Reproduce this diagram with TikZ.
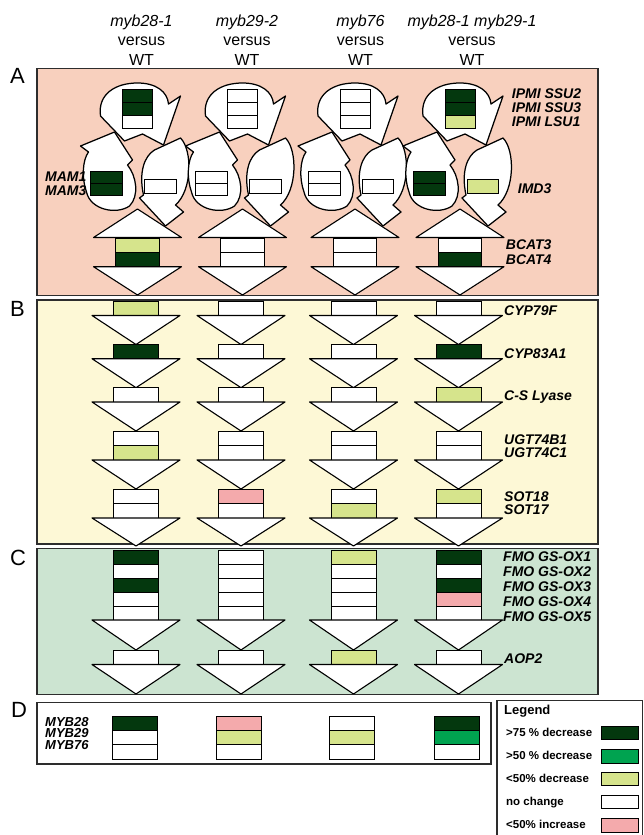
\documentclass[tikz,border=0pt]{standalone}
\usepackage{fontspec}
\setmainfont{Liberation Sans}
\definecolor{panelA}{RGB}{248,208,190}
\definecolor{panelB}{RGB}{253,248,214}
\definecolor{panelC}{RGB}{204,228,209}
\definecolor{dk}{RGB}{4,56,14}
\definecolor{md}{RGB}{0,163,80}
\definecolor{lt}{RGB}{214,228,140}
\definecolor{pk}{RGB}{244,170,172}
\definecolor{wh}{RGB}{255,255,255}
\definecolor{frame}{RGB}{45,45,45}
\tikzset{
  panel/.style={draw=frame, line width=1.3pt},
  cell/.style={draw=black, line width=1pt, inner sep=0pt, outer sep=0pt, rectangle},
  tri/.style={draw=black, fill=white, line width=1.1pt, line join=round},
  blob/.style={draw=black, fill=white, line width=1.25pt, line join=round},
  gene/.style={font=\fontsize{14}{14}\selectfont\bfseries\itshape, anchor=west,
    inner sep=0pt, text height=10pt, text depth=0pt},
  myb/.style={font=\fontsize{13}{13}\selectfont\bfseries\itshape, anchor=west,
    inner sep=0pt, text height=9.3pt, text depth=0pt},
  head/.style={font=\fontsize{16}{19}\selectfont, anchor=base, inner sep=0pt},
  letter/.style={font=\fontsize{22}{22}\selectfont, anchor=base west, inner sep=0pt},
  legtext/.style={font=\fontsize{11.5}{12}\selectfont\bfseries, anchor=west,
    inner sep=0pt, text height=8.5pt, text depth=0pt},
}
% three curved arrows of the side-chain elongation cycle, around x = 0
\newcommand\cycleshapes{%
  \draw[blob] (-37,-116) .. controls (-40,-94) and (-22,-83) .. (0,-83)
    .. controls (19,-83) and (30,-92) .. (31,-104) -- (43,-96) -- (26,-145)
    -- (5,-134) -- (-13,-141) -- cycle;
  \draw[blob] (-57,-146) -- (-23,-132) -- (-5,-160) -- (-10,-165)
    .. controls (-1,-176) and (2,-196) .. (-8,-206)
    .. controls (-21,-215) and (-47,-210) .. (-51,-192)
    .. controls (-56,-178) and (-55,-160) .. (-49,-152) -- cycle;
  \draw[blob] (17,-150) -- (43,-138)
    .. controls (55,-150) and (55,-190) .. (38,-205) -- (46,-212) -- (28,-226)
    -- (2,-198) -- (6,-195)
    .. controls (1,-172) and (7,-156) .. (17,-150) -- cycle;
}
% downward pathway arrow: top edge at #1, tip at #2
\newcommand\downtri[2]{\draw[tri] (-44,#1) -- (44,#1) -- (0,#2) -- cycle;}
\begin{document}
\begin{tikzpicture}[x=1pt,y=1pt]
\useasboundingbox (0,0) rectangle (644,-835);
\fill[white] (0,0) rectangle (644,-835);

% column headings
\foreach \x/\g [count=\i] in {141.5/myb28-1, 247/myb29-2, 360.5/myb76, 472/{myb28-1 myb29-1}} {
  \node[head, font=\fontsize{16}{19}\selectfont\itshape] (hd\i-1) at (\x,-26) {\g};
  \node[head] (hd\i-2) at (\x,-45.8) {versus};
  \node[head] (hd\i-3) at (\x,-65.7) {WT};
}

% panel frames
\draw[panel, fill=panelA] (37,-68.5) rectangle (598,-295.5);
\draw[panel, fill=panelB] (37,-300) rectangle (598,-544);
\draw[panel, fill=panelC] (37,-548.5) rectangle (598,-694.5);
\draw[panel, fill=white] (37,-702.5) rectangle (491,-764);
\draw[panel, fill=white] (497,-700.5) rectangle (642.5,-850);

\node[letter] (lA) at (10,-83) {A};
\node[letter] (lB) at (10,-316) {B};
\node[letter] (lC) at (10,-565) {C};
\node[letter] (lD) at (11,-717) {D};

% panel A: chain elongation
\foreach \cx/\ta/\tb/\tc/\la/\lb/\ra/\ba/\bb [count=\i] in
  {137.5/dk/dk/wh/dk/dk/wh/lt/dk, 242.5/wh/wh/wh/wh/wh/wh/wh/wh,
   355/wh/wh/wh/wh/wh/wh/wh/wh, 460/dk/dk/lt/dk/dk/lt/wh/dk} {
  \begin{scope}[shift={(\cx,0)}]
    \cycleshapes
    \node[cell, fill=\ta, minimum width=30pt, minimum height=13pt] (ip\i-1) at (0,-95.8) {};
    \node[cell, fill=\tb, minimum width=30pt, minimum height=13pt] (ip\i-2) at (0,-108.8) {};
    \node[cell, fill=\tc, minimum width=30pt, minimum height=13pt] (ip\i-3) at (0,-121.8) {};
    \node[cell, fill=\la, minimum width=32pt, minimum height=12pt] (mam\i-1) at (-30.8,-177) {};
    \node[cell, fill=\lb, minimum width=32pt, minimum height=12pt] (mam\i-2) at (-30.8,-189) {};
    \node[cell, fill=\ra, minimum width=31.4pt, minimum height=14pt] (imd\i) at (23,-186.3) {};
    \draw[tri] (0,-209) -- (-44,-237.5) -- (44,-237.5) -- cycle;
    \node[cell, fill=\ba, minimum width=43.5pt, minimum height=14.3pt] (bcat\i-1) at (0,-245.2) {};
    \node[cell, fill=\bb, minimum width=43.5pt, minimum height=14.3pt] (bcat\i-2) at (0,-259.6) {};
    \downtri{-266.7}{-295}
  \end{scope}
}

% panel B: core structure
\foreach \cx/\a/\b/\c/\d/\e/\f/\g [count=\i] in
  {136/lt/dk/wh/wh/lt/wh/wh, 241/wh/wh/wh/wh/wh/pk/wh,
   353.5/wh/wh/wh/wh/wh/wh/lt, 458.5/wh/dk/lt/wh/wh/lt/wh} {
  \begin{scope}[shift={(\cx,0)}, every node/.style={cell, minimum width=45pt}]
    \node[fill=\a, minimum height=14pt] (cyp\i) at (0,-308.5) {};
    \downtri{-315.5}{-344.5}
    \node[fill=\b, minimum height=14.2pt] (cypb\i) at (0,-351.6) {};
    \downtri{-358.7}{-387.7}
    \node[fill=\c, minimum height=14.3pt] (csl\i) at (0,-394.85) {};
    \downtri{-402}{-431}
    \node[fill=\d, minimum height=14.5pt] (ugt\i-1) at (0,-438.25) {};
    \node[fill=\e, minimum height=14.5pt] (ugt\i-2) at (0,-452.75) {};
    \downtri{-460}{-489}
    \node[fill=\f, minimum height=14.5pt] (sot\i-1) at (0,-496.25) {};
    \node[fill=\g, minimum height=14.5pt] (sot\i-2) at (0,-510.75) {};
    \downtri{-518}{-546}
  \end{scope}
}

% panel C: side-chain modification
\foreach \cx/\a/\b/\c/\d/\e/\f [count=\i] in
  {136/dk/wh/dk/wh/wh/wh, 241/wh/wh/wh/wh/wh/wh,
   353.5/lt/wh/wh/wh/wh/lt, 458.5/dk/wh/dk/pk/wh/wh} {
  \begin{scope}[shift={(\cx,0)}, every node/.style={cell, minimum width=45pt, minimum height=14pt}]
    \node[fill=\a] (fmo\i-1) at (0,-557) {};
    \node[fill=\b] (fmo\i-2) at (0,-571) {};
    \node[fill=\c] (fmo\i-3) at (0,-585) {};
    \node[fill=\d] (fmo\i-4) at (0,-599) {};
    \node[fill=\e] (fmo\i-5) at (0,-613) {};
    \downtri{-620}{-650}
    \node[fill=\f, minimum height=14.5pt] (aop\i) at (0,-657.25) {};
    \downtri{-664.5}{-694}
  \end{scope}
}

% panel D: transcription factors
\foreach \cx/\a/\b/\c [count=\i] in
  {134.5/dk/wh/wh, 239/pk/lt/wh, 352/wh/lt/wh, 457/dk/md/wh} {
  \begin{scope}[shift={(\cx,0)}, every node/.style={cell, minimum width=45pt, minimum height=14.1pt}]
    \node[fill=\a] (tf\i-1) at (0,-723.75) {};
    \node[fill=\b] (tf\i-2) at (0,-737.85) {};
    \node[fill=\c] (tf\i-3) at (0,-751.95) {};
  \end{scope}
}

% gene names
\node[gene] (n-ssu2) at (511.7,-93.3) {IPMI SSU2};
\node[gene] (n-ssu3) at (511.7,-107.5) {IPMI SSU3};
\node[gene] (n-lsu1) at (511.7,-121.7) {IPMI LSU1};
\node[gene] (n-imd3) at (517.7,-188.3) {IMD3};
\node[gene] (n-bcat3) at (505.7,-244.3) {BCAT3};
\node[gene] (n-bcat4) at (505.7,-259.3) {BCAT4};
\node[gene] (n-mam1) at (45,-176.7) {MAM1};
\node[gene] (n-mam3) at (45,-190.7) {MAM3};
\node[gene] (n-cyp79) at (504,-310) {CYP79F};
\node[gene] (n-cyp83) at (504,-353.3) {CYP83A1};
\node[gene] (n-csl) at (504,-395.3) {C-S Lyase};
\node[gene] (n-ugtb) at (504,-439.3) {UGT74B1};
\node[gene] (n-ugtc) at (504,-452.7) {UGT74C1};
\node[gene] (n-sot18) at (504,-496) {SOT18};
\node[gene] (n-sot17) at (504,-509.3) {SOT17};
\foreach \k/\y in {1/556.7, 2/571.7, 3/586.7, 4/601.7, 5/616.7}
  \node[gene] (n-fmo\k) at (503,-\y) {FMO GS-OX\k};
\node[gene] (n-aop2) at (504,-658.3) {AOP2};
\node[myb] (n-myb28) at (45,-721.7) {MYB28};
\node[myb] (n-myb29) at (45,-733.3) {MYB29};
\node[myb] (n-myb76) at (45,-745) {MYB76};

% legend
\node[legtext, font=\fontsize{13}{13}\selectfont\bfseries] (lg) at (504,-710) {Legend};
\foreach \t/\c/\y [count=\k] in {>75 \% decrease/dk/732, >50 \% decrease/md/755.5,
    <50\% decrease/lt/778, no change/wh/801, <50\% increase/pk/824.5} {
  \node[legtext] (lt\k) at (506,-\y) {\t};
  \node[cell, fill=\c, minimum width=37pt, minimum height=13.5pt] (sw\k) at (620,-\y-1.2) {};
}
\end{tikzpicture}
\end{document}
